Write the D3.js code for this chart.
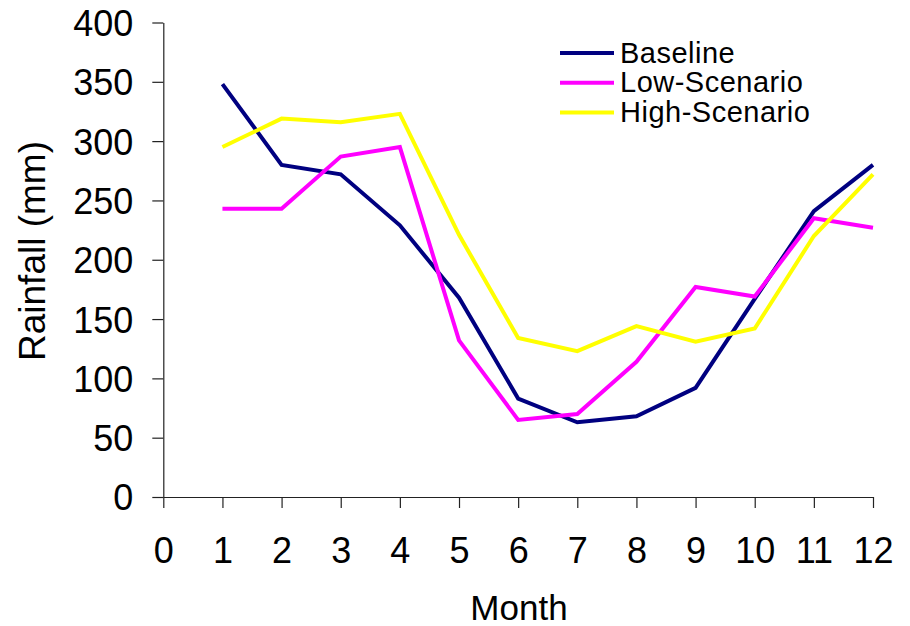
<!DOCTYPE html>
<html>
<head>
<meta charset="utf-8">
<script src="https://cdn.jsdelivr.net/npm/d3@7"></script>
<style>
  html, body { margin: 0; padding: 0; background: #fff; }
  svg { display: block; }
  text { font-family: "Liberation Sans", Arial, sans-serif; fill: #000; }
</style>
</head>
<body>
<svg id="chart" width="910" height="626"></svg>
<script>
// Monthly rainfall (mm) for three scenarios
const months = [1, 2, 3, 4, 5, 6, 7, 8, 9, 10, 11, 12];
const baseline = [348, 280, 272, 229, 168, 83, 63, 68, 92, 167, 241, 280];
const lowScenario = [243, 243, 287, 295, 132, 65, 70, 114, 177, 169, 235, 227];
const highScenario = [295, 319, 316, 323, 221, 134, 123, 144, 131, 142, 220, 272];

const seriesNames = ["Baseline", "Low-Scenario", "High-Scenario"];
const seriesColors = ["#000080", "#FF00FF", "#FFFF00"];
const seriesValues = [baseline, lowScenario, highScenario];

const xTicks = [0, 1, 2, 3, 4, 5, 6, 7, 8, 9, 10, 11, 12];
const yTicks = [0, 50, 100, 150, 200, 250, 300, 350, 400];

const svg = d3.select("#chart");

const x = d3.scaleLinear().domain([0, 12]).range([163.3, 873]);
const y = d3.scaleLinear().domain([0, 400]).range([497, 22.5]);

// Y axis
const yAxis = svg.append("g")
  .attr("transform", `translate(${x(0)},0)`)
  .call(d3.axisLeft(y).tickValues(yTicks).tickSize(11).tickSizeOuter(0).tickPadding(19));
yAxis.selectAll("text")
  .attr("font-size", 36)
  .attr("dy", "0.36em")
  .attr("font-family", "Liberation Sans, Arial, sans-serif");

// X axis
const xAxis = svg.append("g")
  .attr("transform", `translate(0,${y(0)})`)
  .call(d3.axisBottom(x).tickValues(xTicks).tickSize(11).tickSizeOuter(0));
xAxis.selectAll("text")
  .attr("font-size", 36)
  .attr("y", 66)
  .attr("dy", 0)
  .attr("font-family", "Liberation Sans, Arial, sans-serif");

svg.selectAll(".domain, .tick line")
  .attr("stroke", "#222")
  .attr("stroke-width", 1.2);
svg.selectAll(".tick text").attr("fill", "#000");

// Series lines
const line = d3.line()
  .x((d, i) => x(months[i]))
  .y(d => y(d));

seriesValues.forEach((vals, k) => {
  svg.append("path")
    .datum(vals)
    .attr("fill", "none")
    .attr("stroke", seriesColors[k])
    .attr("stroke-width", 4)
    .attr("stroke-linejoin", "miter")
    .attr("d", line);
});

// Legend
const legend = svg.append("g").attr("transform", "translate(560,53)");
seriesNames.forEach((name, k) => {
  const row = legend.append("g").attr("transform", `translate(0,${k * 29.8})`);
  row.append("line")
    .attr("x1", 0).attr("x2", 54)
    .attr("y1", 0).attr("y2", 0)
    .attr("stroke", seriesColors[k])
    .attr("stroke-width", 4);
  row.append("text")
    .attr("x", 60)
    .attr("y", 9.5)
    .attr("font-size", 29)
    .attr("letter-spacing", 0.5)
    .text(name);
});

// Axis titles
svg.append("text")
  .attr("transform", "translate(45,251) rotate(-90)")
  .attr("text-anchor", "middle")
  .attr("font-size", 37)
  .text("Rainfall (mm)");

svg.append("text")
  .attr("x", 519)
  .attr("y", 620)
  .attr("text-anchor", "middle")
  .attr("font-size", 35)
  .text("Month");
</script>
</body>
</html>
